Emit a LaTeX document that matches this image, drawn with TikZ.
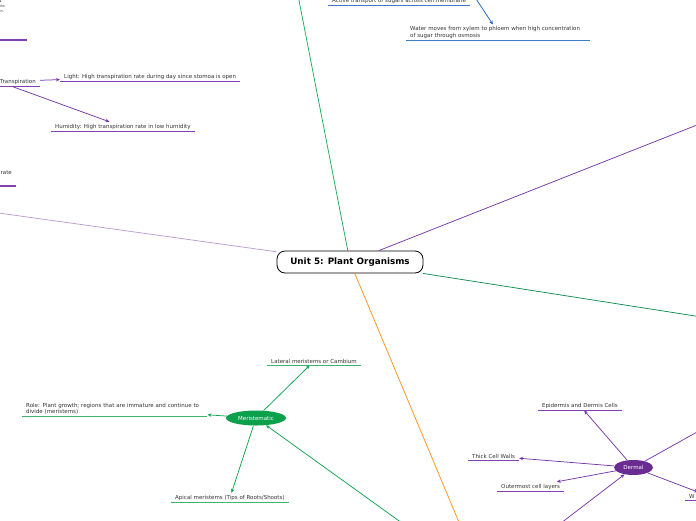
\documentclass[tikz,border=0pt]{standalone}
\usepackage{fontspec}
\setmainfont{DejaVu Sans}
\usetikzlibrary{shapes.geometric,arrows.meta,positioning}

\definecolor{txtgray}{RGB}{51,51,51}
\definecolor{mpurple}{RGB}{118,56,168}
\definecolor{lpurple}{RGB}{188,155,212}
\definecolor{ulpurple}{RGB}{128,66,178}
\definecolor{dermfill}{RGB}{106,44,145}
\definecolor{mgreen}{RGB}{16,164,82}
\definecolor{ulgreen}{RGB}{60,180,110}
\definecolor{meristfill}{RGB}{10,160,76}
\definecolor{topgreen}{RGB}{30,172,92}
\definecolor{dgreen}{RGB}{20,140,78}
\definecolor{mblue}{RGB}{30,100,190}
\definecolor{ulblue}{RGB}{60,122,202}
\definecolor{morange}{RGB}{247,148,29}

\begin{document}
\begin{tikzpicture}[
    x=1pt, y=-1pt,
    topic/.style={inner xsep=4pt, inner ysep=2pt, align=left, text=txtgray, font=\fontsize{5.5}{6.3}\selectfont},
    frag/.style={inner sep=0pt, align=left, text=txtgray, font=\fontsize{3.5}{5}\selectfont},
    central/.style={draw, rounded corners=8pt, minimum width=146pt, minimum height=22pt, line width=0.8pt, font=\fontsize{8.8}{10}\selectfont\bfseries},
    tissue/.style={ellipse, inner sep=0pt, minimum height=15pt, text=white, font=\fontsize{5.5}{6.3}\selectfont},
    link/.style={line width=0.75pt},
    arrow/.style={link, -{Stealth[length=4pt, width=3.5pt]}},
    uline/.style={line width=1.8pt}
]
\useasboundingbox (0,0) rectangle (696,520);
\clip (0,0) rectangle (696,520);

% Central topic
\node[central] (unit) at (350,262) {Unit 5: Plant Organisms};

% Branches leaving the visible area
\coordinate (upnode) at (296,-15);
\coordinate (leftnode) at (-30,209);
\coordinate (rightup) at (740,108);
\coordinate (rightdown) at (740,323);
\coordinate (tissues) at (484,582);
\coordinate (phloem) at (457,-30);
\coordinate (dermright) at (740,408);

\draw[link, topgreen] (unit) -- (upnode);
\draw[link, lpurple] (unit) -- (leftnode);
\draw[link, mpurple] (unit) -- (rightup);
\draw[link, dgreen] (unit) -- (rightdown);
\draw[link, morange] (unit) -- (tissues);

% Transport (top)
\node[topic, anchor=south west] (active) at (328,5.5) {Active transport of sugars across cell membrane};
\node[topic, anchor=south west, text width=176pt] (water) at (406,40.5) {Water moves from xylem to phloem when high concentration\\of sugar through osmosis};
\draw[arrow, mblue] (phloem) -- (water);

% Transpiration (top left)
\node[frag, anchor=north west] (sugar) at (-5,-0.5) {\textbf{ets}\\s into\\hain.};
\node[topic, anchor=south east, text width=74pt, align=right] (transp) at (40,86.5) {Transpiration};
\node[topic, anchor=south west] (light) at (60,81.5) {Light: High transpiration rate during day since stomoa is open};
\node[topic, anchor=south west] (humid) at (51,131.5) {Humidity: High transpiration rate in low humidity};
\node[topic, anchor=south east, text depth=9pt] (rate) at (16,186) {rate};
\draw[arrow, mpurple] (transp) -- (light);
\draw[arrow, mpurple] (transp) -- (humid);

% Meristematic
\node[tissue, fill=meristfill, minimum width=60pt] (merist) at (256,418) {Meristematic};
\node[topic, anchor=south west] (lateral) at (267,365.5) {Lateral meristems or Cambium};
\node[topic, anchor=south west, text width=177pt] (role) at (22,416.5) {Role: Plant growth; regions that are immature and continue to\\divide (meristems)};
\node[topic, anchor=south west] (apical) at (171,502.5) {Apical meristems (Tips of Roots/Shoots)};
\draw[arrow, mgreen] (tissues) -- (merist);
\draw[arrow, mgreen] (merist) -- (lateral);
\draw[arrow, mgreen] (merist) -- (role);
\draw[arrow, mgreen] (merist) -- (apical);

% Dermal
\node[tissue, fill=dermfill, minimum width=39pt] (dermal) at (633.5,467.5) {Dermal};
\node[topic, anchor=south west] (epid) at (538,410.5) {Epidermis and Dermis Cells};
\node[topic, anchor=south west] (thick) at (468,460.5) {Thick Cell Walls};
\node[topic, anchor=south west] (outer) at (497,491.5) {Outermost cell layers};
\node[topic, anchor=south west, text width=40pt] (waxy) at (685,500.5) {W};
\draw[arrow, mpurple] (tissues) -- (dermal);
\draw[arrow, mpurple] (dermal) -- (epid);
\draw[arrow, mpurple] (dermal) -- (thick);
\draw[arrow, mpurple] (dermal) -- (outer);
\draw[arrow, mpurple] (dermal) -- (waxy);
\draw[link, mpurple] (dermal) -- (dermright);

% Underlines
\draw[uline, ulpurple] (-5,40) -- (27,40);
\foreach \n in {transp, light, humid, rate, epid, thick, outer, waxy}
  \draw[uline, ulpurple] (\n.south west) -- (\n.south east);
\foreach \n in {lateral, role, apical}
  \draw[uline, ulgreen] (\n.south west) -- (\n.south east);
\foreach \n in {active, water}
  \draw[uline, ulblue] (\n.south west) -- (\n.south east);

\end{tikzpicture}
\end{document}
